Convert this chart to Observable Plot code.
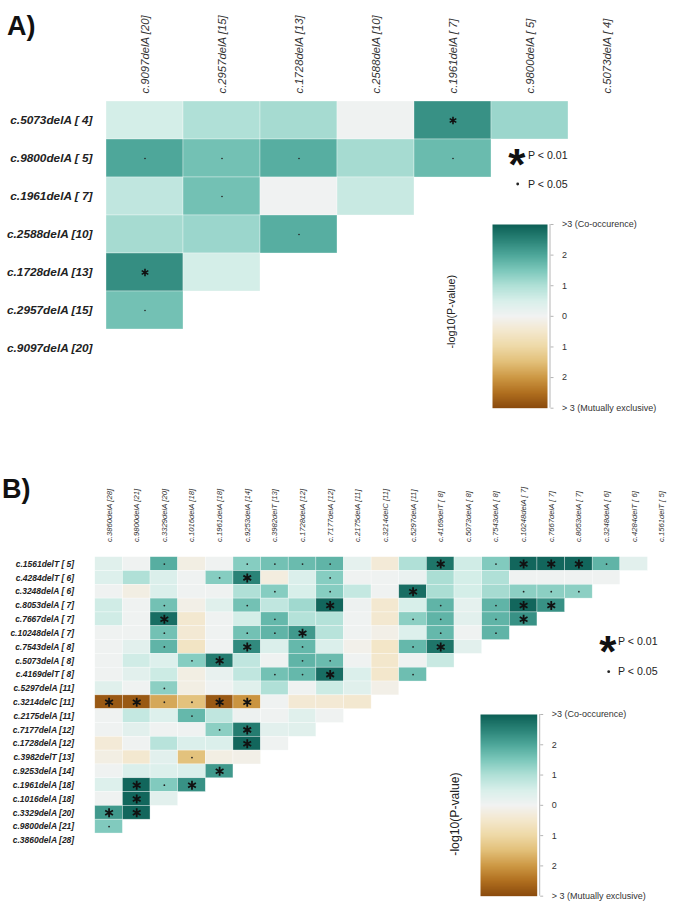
<!DOCTYPE html>
<html><head><meta charset="utf-8">
<script src="https://cdn.jsdelivr.net/npm/d3@7"></script>
<script src="https://cdn.jsdelivr.net/npm/@observablehq/plot@0.6"></script>
<style>
html,body{margin:0;padding:0;background:#fff;overflow:hidden;}
#page{position:relative;width:685px;height:902px;overflow:hidden;font-family:"Liberation Sans",Arial,sans-serif;}
#page > div, #page > svg{position:absolute;}
#page svg{overflow:visible;}
.pa g[aria-label="x-axis tick label"], .pb g[aria-label="x-axis tick label"]{font-style:italic;}
.pa g[aria-label="y-axis tick label"], .pb g[aria-label="y-axis tick label"]{font-style:italic;font-weight:bold;}
</style></head><body><div id="page"></div>
<script>
// ---------- Panel A ----------
const colsA = ["c.9097delA [20]","c.2957delA [15]","c.1728delA [13]","c.2588delA [10]","c.1961delA [ 7]","c.9800delA [ 5]","c.5073delA [ 4]"];
const rowsA = ["c.5073delA [ 4]","c.9800delA [ 5]","c.1961delA [ 7]","c.2588delA [10]","c.1728delA [13]","c.2957delA [15]","c.9097delA [20]"];
const valuesA = [
  [0.55, 1.0, 1.1, 0.05, 2.3, 1.2],
  [2.0, 1.6, 1.9, 1.1, 1.7],
  [0.8, 1.6, 0.03, 0.7],
  [1.1, 1.2, 1.9],
  [2.35, 0.55],
  [1.6],
  []
];
const sigA = ["----*-", "...-.", "-.--", "--.", "*-", ".", ""];

// ---------- Panel B ----------
const colsB = ["c.3860delA [28]","c.9800delA [21]","c.3329delA [20]","c.1016delA [18]","c.1961delA [18]","c.9253delA [14]","c.3982delT [13]","c.1728delA [12]","c.7177delA [12]","c.2175delA [11]","c.3214delC [11]","c.5297delA [11]","c.4169delT [ 8]","c.5073delA [ 8]","c.7543delA [ 8]","c.10248delA [ 7]","c.7667delA [ 7]","c.8053delA [ 7]","c.3248delA [ 6]","c.4284delT [ 6]","c.1561delT [ 5]"];
const rowsB = ["c.1561delT [ 5]","c.4284delT [ 6]","c.3248delA [ 6]","c.8053delA [ 7]","c.7667delA [ 7]","c.10248delA [ 7]","c.7543delA [ 8]","c.5073delA [ 8]","c.4169delT [ 8]","c.5297delA [11]","c.3214delC [11]","c.2175delA [11]","c.7177delA [12]","c.1728delA [12]","c.3982delT [13]","c.9253delA [14]","c.1961delA [18]","c.1016delA [18]","c.3329delA [20]","c.9800delA [21]","c.3860delA [28]"];
const valuesB = [
  [0.35,0.05,1.9,-0.2,0.05,1.4,1.6,1.7,1.8,0.25,-0.35,1.0,2.7,0.6,1.45,2.9,2.9,2.9,1.8,0.3],
  [0.4,1.0,0.45,0.05,1.4,2.5,-0.25,0.45,1.4,0.05,0.05,0.15,1.05,0.55,1.0,0.05,0.05,0.05,0.05],
  [0.05,-0.2,0.45,0.05,0.05,1.0,1.4,0.5,1.4,0.75,0.05,2.8,1.05,0.55,1.1,1.35,1.35,1.35],
  [0.6,0.05,1.6,-0.15,0.35,1.6,0.8,1.15,2.9,0.1,-0.45,0.5,1.8,0.25,1.8,2.9,2.3],
  [0.6,0.05,2.8,-0.45,0.05,0.55,1.75,0.95,0.95,0.05,-0.45,1.35,1.8,0.3,1.8,2.3],
  [0.05,0.05,1.6,-0.4,0.05,1.6,1.8,2.2,0.9,0.05,-0.15,0.4,1.75,0.05,1.8],
  [0.05,0.3,1.8,-0.6,0.05,2.4,0.45,1.75,0.45,-0.1,-0.55,1.75,2.7,0.3],
  [0.05,0.6,0.4,1.4,2.6,0.8,0.05,1.8,1.7,0.05,-0.5,0.05,0.7],
  [0.05,0.3,0.65,-0.2,0.2,0.8,1.6,1.75,2.8,0.45,-0.5,1.65],
  [0.35,0.05,1.35,-0.2,0.05,0.35,1.0,0.05,0.65,0.35,-0.15],
  [-2.8,-2.8,-1.8,-1.45,-2.8,-2.05,0.05,-0.4,-0.4,-0.45],
  [0.05,0.75,0.4,1.75,0.8,0.1,0.05,0.35,0.05],
  [0.05,0.3,0.05,0.05,1.35,2.6,0.3,0.35],
  [-0.35,0.05,0.9,0.45,0.45,2.9,0.05],
  [-0.2,-0.45,0.3,-1.45,-0.2,-0.15],
  [0.05,0.45,0.4,0.45,2.2],
  [0.4,2.9,1.45,2.3],
  [0.05,2.9,0.3],
  [2.2,2.9],
  [1.45],
  []
];
const sigB = [
  "--.--....---*-.***.-",
  "----.*--.----------",
  "------.-.--*---...",
  "--.--.--*---.-.**",
  "--*---.----..-.*",
  "--.--..*----.-.",
  "--.--*-.---.*-",
  "---.*--..----",
  "------..*--.",
  "--.--------",
  "**..**----",
  "---.-----",
  "----.*--",
  "-----*-",
  "---.--",
  "----*",
  "-*.*",
  "-*-",
  "**",
  ".",
  ""
];

// legend ticks
const legendTicks = [-3, -2, -1, 0, 1, 2, 3];
const legendTickLabels = ["> 3 (Mutually exclusive)", "2", "1", "0", "1", "2", ">3 (Co-occurence)"];

// colour ramp (style)
const colorScale = {
  type: "linear",
  domain: [-3,-2.5,-2,-1.5,-1,-0.5,0,0.5,1,1.5,2,2.5,3],
  range: ["#8a4a0d","#b06f1f","#cd9844","#e2bf78","#eed9a6","#f3e7cc","#f2f2f2","#d8efea","#b0e0d7","#7cc8bb","#4ea79a","#2a8377","#0c5f55"],
  clamp: true
};

function table(rows, cols, values, sig) {
  const out = [];
  values.forEach((vals, i) => vals.forEach((v, j) => out.push({row: rows[i], col: cols[j], value: v, sig: sig[i][j]})));
  return out;
}
const dataA = table(rowsA, colsA, valuesA, sigA);
const dataB = table(rowsB, colsB, valuesB, sigB);
const FONT = "Liberation Sans, Arial, sans-serif";
const page = document.getElementById("page");

function place(el, left, top) {
  const wrap = document.createElement("div");
  wrap.style.left = left + "px";
  wrap.style.top = top + "px";
  wrap.appendChild(el);
  page.appendChild(wrap);
}

function heat(data, cols, rows, o) {
  return Plot.plot({
    className: o.cls,
    width: o.width, height: o.height,
    marginTop: o.mt, marginBottom: o.mb, marginLeft: o.ml, marginRight: o.mr,
    x: {domain: cols, padding: 0},
    y: {domain: rows, padding: 0},
    color: colorScale,
    style: {fontFamily: FONT, background: "transparent", color: "#222"},
    marks: [
      Plot.cell(data, {x: "col", y: "row", fill: "value", inset: 0, stroke: "#ffffff", strokeWidth: 0.6, strokeOpacity: 0.55}),
      Plot.dot(data.filter(d => d.sig === "*"), {x: "col", y: "row", symbol: "asterisk", r: o.star, stroke: "#111", strokeWidth: o.starW, fill: "none"}),
      Plot.dot(data.filter(d => d.sig === "."), {x: "col", y: "row", r: o.dot, fill: "#222", stroke: null}),
      Plot.axisX({anchor: "top", tickSize: 0, tickPadding: o.xpad, tickRotate: -90, fontSize: o.xfs, fontStyle: "italic", fill: "#333", label: null}),
      Plot.axisY({anchor: "left", tickSize: 0, tickPadding: o.ypad, fontSize: o.yfs, fontWeight: "bold", fontStyle: "italic", fill: "#222", label: null})
    ]
  });
}

// Panel A
place(heat(dataA, colsA, rowsA, {cls: "pa", width: 685, height: 380, mt: 99, mb: 10.8, ml: 105, mr: 38.2, star: 3.6, starW: 1.6, dot: 0.8, xpad: 6, xfs: 11.3, ypad: 13, yfs: 11.8}), 0, 0);
// Panel B
place(heat(dataB, colsB, rowsB, {cls: "pb", width: 694, height: 408.3, mt: 100.7, mb: 10, ml: 86.6, mr: 0, star: 4.3, starW: 1.8, dot: 0.9, xpad: 13, xfs: 7.8, ypad: 12, yfs: 8.6}), 0, 455);

function colorbar(left, top, barW, barH) {
  const gap = 2.5;
  const xmax = (barW + gap) / barW;
  const p = Plot.plot({
    width: barW + gap + 130, height: barH + 16,
    marginLeft: 0, marginRight: 130, marginTop: 8, marginBottom: 8,
    x: {domain: [0, xmax], axis: null},
    y: {domain: [-3, 3]},
    color: colorScale,
    style: {fontFamily: FONT, background: "transparent"},
    marks: [
      Plot.raster({x1: 0, x2: 1, y1: -3, y2: 3, width: 1, height: 300, fill: (x, y) => y, imageRendering: "auto"}),
      Plot.ruleX([xmax], {stroke: "#b5b5b5", strokeWidth: 1}),
      Plot.axisY({anchor: "right", ticks: legendTicks, tickFormat: d => legendTickLabels[legendTicks.indexOf(d)], tickSize: 3, tickPadding: 9, fontSize: 9, stroke: "#b5b5b5", fill: "#333", label: null})
    ]
  });
  place(p, left, top - 8);
}
colorbar(492, 224.3, 55, 183.7);
colorbar(480, 714.3, 56.7, 181.7);

// overlay: panel titles and significance legends
const svg = d3.select(page).append("svg").attr("width", 685).attr("height", 902)
  .style("left", "0px").style("top", "0px").style("pointer-events", "none")
  .attr("font-family", FONT);
const titles = [{t: "A)", x: 7, y: 35}, {t: "B)", x: 2, y: 498}];
svg.selectAll("text.title").data(titles).join("text").attr("class", "title")
  .attr("x", d => d.x).attr("y", d => d.y).attr("font-size", 27).attr("font-weight", "bold").attr("fill", "#111").text(d => d.t);

const sigLegends = [
  {sx: 516.7, sy: 155, dy: 184, tx: 528, lx: 451.7, ly: 311.7, lfs: 10.8},
  {sx: 607.7, sy: 641.7, dy: 671.7, tx: 618, lx: 455, ly: 814, lfs: 12.2}
];
sigLegends.forEach(L => {
  svg.append("text").attr("x", L.sx).attr("y", L.sy + 0.57 * 44).attr("text-anchor", "middle")
    .attr("font-size", 44).attr("font-weight", "bold").attr("fill", "#111").text("*");
  svg.append("text").attr("x", L.tx).attr("y", L.sy).attr("dy", "0.35em").attr("font-size", 10.6).attr("fill", "#222").text("P < 0.01");
  svg.append("circle").attr("cx", L.sx + 1).attr("cy", L.dy).attr("r", 1.4).attr("fill", "#222");
  svg.append("text").attr("x", L.tx).attr("y", L.dy).attr("dy", "0.35em").attr("font-size", 10.6).attr("fill", "#222").text("P < 0.05");
  svg.append("text").attr("transform", `translate(${L.lx},${L.ly}) rotate(-90)`).attr("text-anchor", "middle")
    .attr("dy", "0.35em").attr("font-size", L.lfs).attr("fill", "#222").text("-log10(P-value)");
});
</script>
</body></html>
